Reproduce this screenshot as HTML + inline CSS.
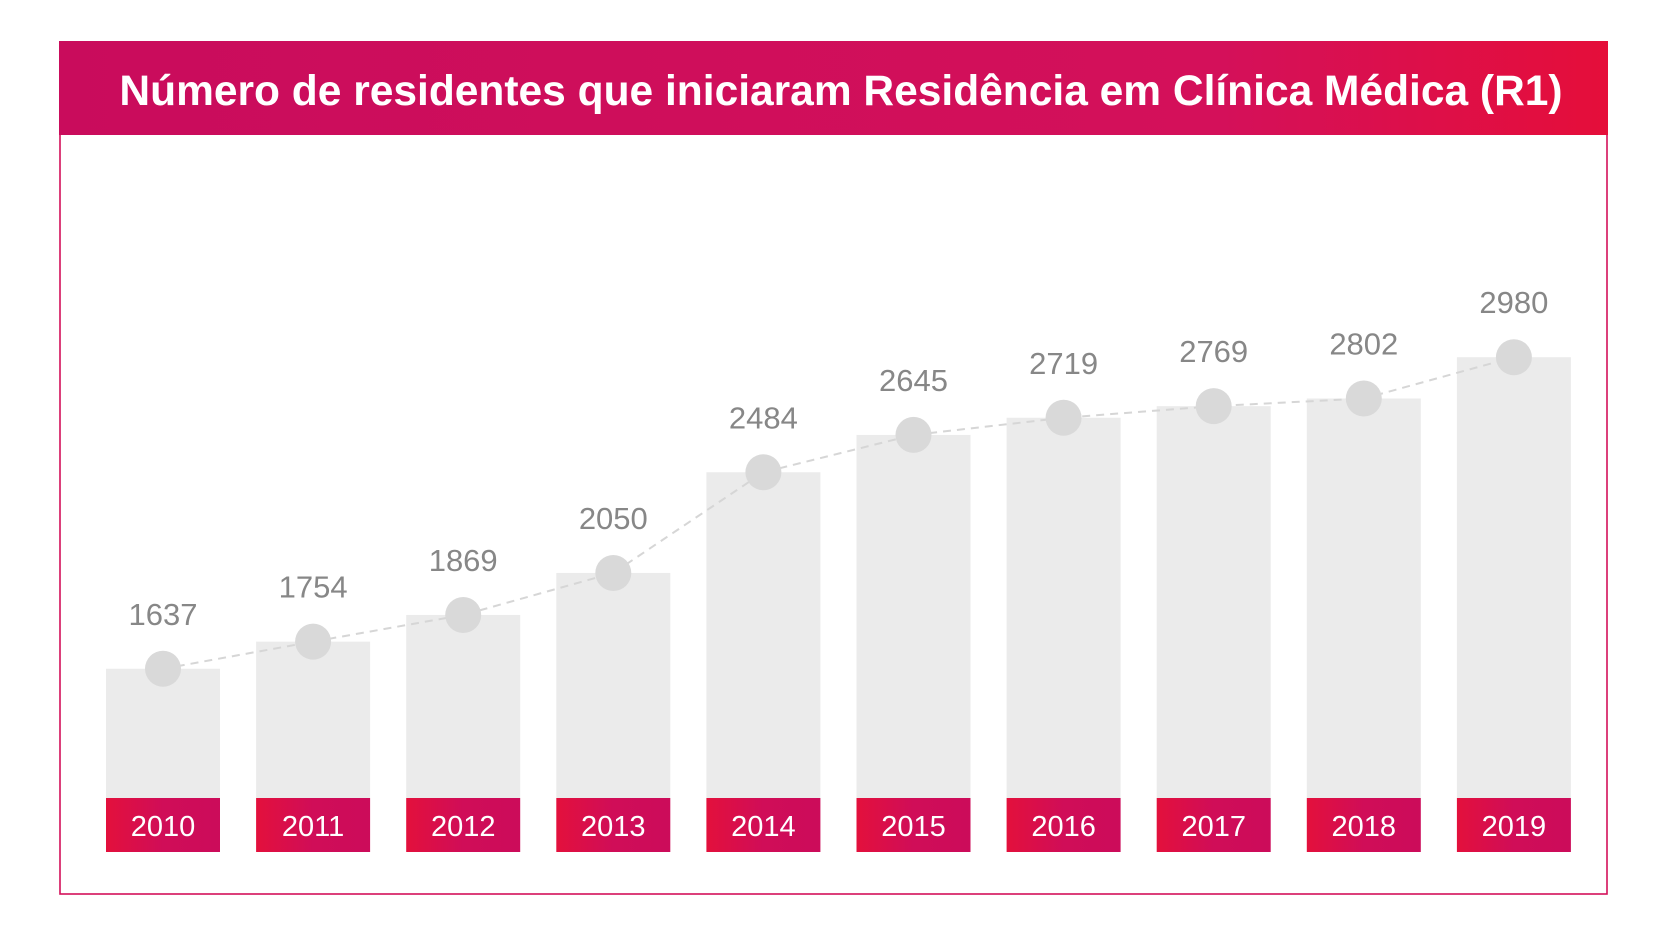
<!DOCTYPE html>
<html><head><meta charset="utf-8"><style>
body{margin:0;background:#fff;width:1667px;height:935px;overflow:hidden;font-family:"Liberation Sans",sans-serif}
</style></head><body>
<svg width="1667" height="935">
<defs>
<linearGradient id="hg" x1="0" x2="1"><stop offset="0" stop-color="#c90c5c"/><stop offset="0.75" stop-color="#d4105a"/><stop offset="1" stop-color="#e50e3a"/></linearGradient>
<linearGradient id="yg" x1="0" x2="1"><stop offset="0" stop-color="#e3103c"/><stop offset="0.5" stop-color="#d00d58"/><stop offset="1" stop-color="#cc0c5a"/></linearGradient>
</defs>
<rect x="60" y="42" width="1547" height="852" fill="none" stroke="#d4105a" stroke-width="1.6"/>
<rect x="59" y="41" width="1549" height="94" fill="url(#hg)"/>
<text x="841" y="105" text-anchor="middle" fill="#fff" font-size="42.5" font-weight="bold">Número de residentes que iniciaram Residência em Clínica Médica (R1)</text>
<g id="marks"></g>
</svg>
<script>
const years=['2010','2011','2012','2013','2014','2015','2016','2017','2018','2019'];
const values=[1637,1754,1869,2050,2484,2645,2719,2769,2802,2980];
const NS='http://www.w3.org/2000/svg';
const g=document.getElementById('marks');
function xScale(i){return 106+i*150.1;}
function yScale(v){return 498.5-0.232*(v-2371);}
const bw=114,boxTop=798,boxBot=852;
function mk(t,a){const e=document.createElementNS(NS,t);for(const k in a)e.setAttribute(k,a[k]);g.appendChild(e);return e;}
values.forEach((v,i)=>{
  const b=mk('rect',{x:xScale(i),y:yScale(v),width:bw,height:boxTop-yScale(v),fill:'#ebebeb'});
  
  
  const yb=mk('rect',{x:xScale(i),y:boxTop,width:bw,height:boxBot-boxTop,fill:'url(#yg)'});
  
  
  const yt=mk('text',{x:xScale(i)+bw/2,y:836,'text-anchor':'middle',fill:'#fff','font-size':'29'});
  yt.textContent=years[i];
  
  
});
const pts=values.map((v,i)=>(xScale(i)+bw/2)+','+yScale(v)).join(' ');
const ln=mk('polyline',{points:pts,fill:'none',stroke:'#d6d6d6','stroke-width':2,'stroke-dasharray':'8 6'});


values.forEach((v,i)=>{
  const c=mk('circle',{cx:xScale(i)+bw/2,cy:yScale(v),r:18,fill:'#d9d9d9'});
  
  
  const t=mk('text',{x:xScale(i)+bw/2,y:yScale(v)-44,'text-anchor':'middle',fill:'#878787','font-size':'31'});
  t.textContent=v;
  
  
});
</script>
</body></html>
